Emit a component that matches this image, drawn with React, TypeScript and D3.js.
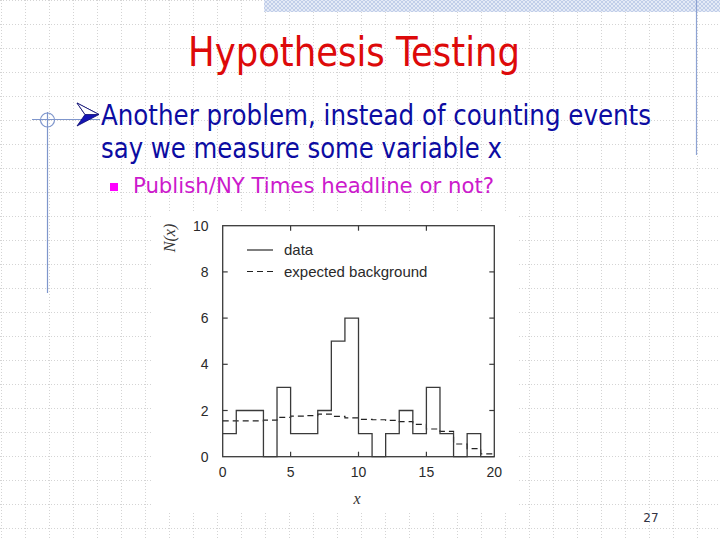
import React from "react";
import * as d3 from "d3";

const binStarts = [0, 1, 2, 3, 4, 5, 6, 7, 8, 9, 10, 11, 12, 13, 14, 15, 16, 17, 18, 19];
const binEnd = 20;
const dataCounts = [1, 2, 2, 0, 3, 1, 1, 2, 5, 6, 1, 0, 1, 2, 1, 3, 1, 0, 1, 0];
const background = [1.55, 1.55, 1.55, 1.58, 1.7, 1.76, 1.78, 1.84, 1.75, 1.68, 1.62, 1.6, 1.57, 1.52, 1.4, 1.2, 1.1, 0.55, 0.35, 0.12];
const xTicks = [0, 5, 10, 15, 20];
const yTicks = [0, 2, 4, 6, 8, 10];
const legendLabels = ["data", "expected background"];

const W = 720;
const H = 540;

export default function App() {
  const x = d3.scaleLinear().domain([0, 20]).range([222.7, 494.3]);
  const y = d3.scaleLinear().domain([0, 10]).range([456.7, 225.7]);

  const step = d3
    .line<[number, number]>()
    .x((d) => x(d[0]))
    .y((d) => y(d[1]))
    .curve(d3.curveStepAfter);

  const dataPts: [number, number][] = binStarts.map((b, i) => [b, dataCounts[i]] as [number, number]);
  dataPts.push([binEnd, dataCounts[dataCounts.length - 1]]);
  const bgPts: [number, number][] = binStarts.map((b, i) => [b, background[i]] as [number, number]);
  bgPts.push([binEnd, background[background.length - 1]]);

  const gridX = d3.range(1, W, 24);
  const gridY = d3.range(0, H, 24);

  const axisColor = "#3a3a3a";
  const tickLen = 5;

  return (
    <svg
      width={W}
      height={H}
      style={{ position: "fixed", left: 0, top: 0, background: "#fff" }}
    >
      <defs>
        <pattern id="hatch" width="4" height="4" patternUnits="userSpaceOnUse">
          <rect width="4" height="4" fill="#e4eaf6" />
          <path d="M0,4 L4,0 M0,0 L4,4" stroke="#b9c7e6" strokeWidth="0.8" />
        </pattern>
      </defs>

      {/* slide grid */}
      <g stroke="#d4d4d4" strokeWidth={1} strokeDasharray="1,2">
        {gridX.map((gx) => (
          <line key={"gx" + gx} x1={gx + 0.5} x2={gx + 0.5} y1={0} y2={H} />
        ))}
        {gridY.map((gy) => (
          <line key={"gy" + gy} x1={0} x2={W} y1={gy + 0.5} y2={gy + 0.5} />
        ))}
      </g>

      {/* top-right hatched band and decorative lines */}
      <rect x={264} y={0} width={456} height={12} fill="url(#hatch)" />
      <line x1={696.5} x2={696.5} y1={0} y2={155} stroke="#8ea3d3" strokeWidth={1.2} />
      <line x1={32} x2={100} y1={119.5} y2={119.5} stroke="#7f96cc" strokeWidth={1.2} />
      <line x1={47.5} x2={47.5} y1={112} y2={293} stroke="#7f96cc" strokeWidth={1.2} />
      <circle cx={47.5} cy={120} r={7} fill="none" stroke="#7f96cc" strokeWidth={1.2} />

      {/* Title */}
      <text
        x={354}
        y={66}
        textAnchor="middle"
        fontFamily="'DejaVu Sans Condensed', 'DejaVu Sans', sans-serif"
        fontSize={41}
        fill="#dd0a0a"
        textLength={332}
        lengthAdjust="spacingAndGlyphs"
      >
        Hypothesis Testing
      </text>

      {/* arrow bullet */}
      <path d="M77,103 L99,114.5 L77,126 L85,114.5 Z" fill="#1414b4" stroke="#0a0a70" strokeWidth={0.8} />
      <path d="M77,103 L99,114.5 L85,114.5 Z" fill="#ffffff" stroke="#0a0a70" strokeWidth={0.8} />

      <text
        x={101}
        y={125}
        fontFamily="'DejaVu Sans Condensed', 'DejaVu Sans', sans-serif"
        fontSize={28}
        fill="#0c0ca2"
        textLength={550}
        lengthAdjust="spacingAndGlyphs"
      >
        Another problem, instead of counting events
      </text>
      <text
        x={101}
        y={158}
        fontFamily="'DejaVu Sans Condensed', 'DejaVu Sans', sans-serif"
        fontSize={28}
        fill="#0c0ca2"
        textLength={401}
        lengthAdjust="spacingAndGlyphs"
      >
        say we measure some variable x
      </text>

      <rect x={110} y={183} width={8} height={8} fill="#ff00ff" />
      <text
        x={133}
        y={193}
        fontFamily="'DejaVu Sans Condensed', 'DejaVu Sans', sans-serif"
        fontSize={21}
        fill="#cc1acc"
        textLength={361}
        lengthAdjust="spacingAndGlyphs"
      >
        Publish/NY Times headline or not?
      </text>

      {/* chart image background */}
      <rect x={152} y={211} width={366} height={300} fill="#ffffff" />

      {/* plot frame */}
      <rect
        x={x(0)}
        y={y(10)}
        width={x(20) - x(0)}
        height={y(0) - y(10)}
        fill="none"
        stroke={axisColor}
        strokeWidth={1.3}
      />

      {/* ticks */}
      <g stroke={axisColor} strokeWidth={1.2}>
        {xTicks.slice(1, -1).map((t) => (
          <g key={"xt" + t}>
            <line x1={x(t)} x2={x(t)} y1={y(0)} y2={y(0) - tickLen} />
            <line x1={x(t)} x2={x(t)} y1={y(10)} y2={y(10) + tickLen} />
          </g>
        ))}
        {yTicks.slice(1, -1).map((t) => (
          <g key={"yt" + t}>
            <line x1={x(0)} x2={x(0) + tickLen} y1={y(t)} y2={y(t)} />
            <line x1={x(20)} x2={x(20) - tickLen} y1={y(t)} y2={y(t)} />
          </g>
        ))}
      </g>

      {/* tick labels */}
      <g fontFamily="'Liberation Sans', Arial, sans-serif" fontSize={14} fill="#2a2a2a">
        {xTicks.map((t) => (
          <text key={"xl" + t} x={x(t)} y={476.5} textAnchor="middle">
            {t}
          </text>
        ))}
        {yTicks.map((t) => (
          <text key={"yl" + t} x={208.5} y={y(t) + 5} textAnchor="end">
            {t}
          </text>
        ))}
      </g>

      {/* axis titles */}
      <text
        x={357}
        y={504}
        textAnchor="middle"
        fontFamily="'Liberation Serif', serif"
        fontStyle="italic"
        fontSize={16}
        fill="#333"
      >
        x
      </text>
      <text
        transform="translate(175,238) rotate(-90)"
        textAnchor="middle"
        fontFamily="'Liberation Serif', serif"
        fontStyle="italic"
        fontSize={16}
        fill="#333"
      >
        N(x)
      </text>

      {/* background (dashed) */}
      <path
        d={step(bgPts) ?? ""}
        fill="none"
        stroke="#222"
        strokeWidth={1.2}
        strokeDasharray="6,4"
      />

      {/* data histogram */}
      <path d={step(dataPts) ?? ""} fill="none" stroke={axisColor} strokeWidth={1.3} />

      {/* legend */}
      <g fontFamily="'Liberation Sans', Arial, sans-serif" fontSize={15} fill="#2a2a2a">
        <line x1={247} x2={273} y1={250} y2={250} stroke={axisColor} strokeWidth={1.3} />
        <text x={284} y={255}>{legendLabels[0]}</text>
        <line
          x1={247}
          x2={273}
          y1={271.5}
          y2={271.5}
          stroke="#222"
          strokeWidth={1.2}
          strokeDasharray="6,4"
        />
        <text x={284} y={277}>{legendLabels[1]}</text>
      </g>

      {/* page number */}
      <text
        x={651}
        y={522}
        textAnchor="middle"
        fontFamily="'DejaVu Sans', sans-serif"
        fontSize={12}
        fill="#333344"
      >
        27
      </text>
    </svg>
  );
}
